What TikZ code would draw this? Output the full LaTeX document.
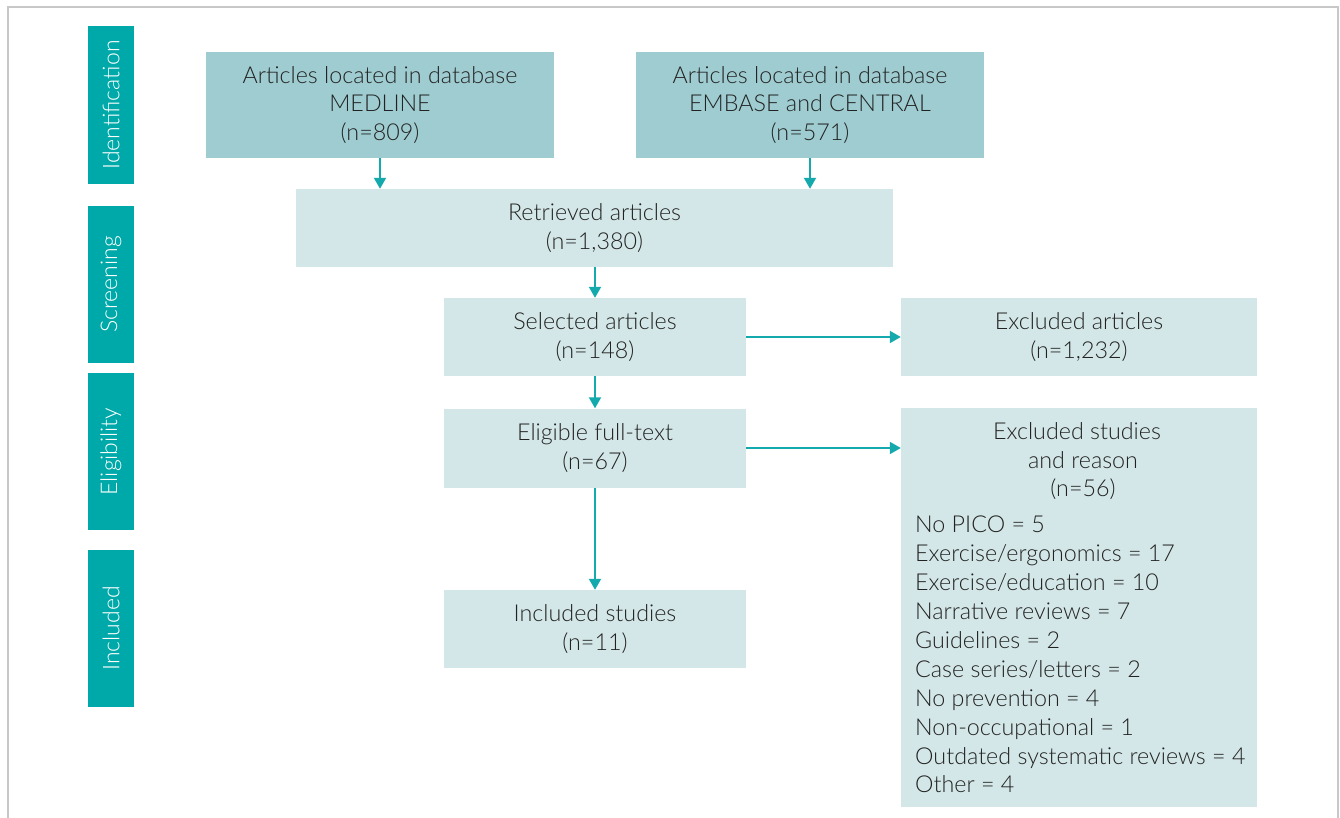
\documentclass[tikz,border=0pt]{standalone}
\usepackage{fontspec}
\setmainfont{Lato}[UprightFont=*-Light]
\usetikzlibrary{arrows.meta}
\definecolor{teal1}{HTML}{00A9A9}
\definecolor{boxdark}{HTML}{9ECCD0}
\definecolor{boxlight}{HTML}{D4E7E8}
\definecolor{arr}{HTML}{14AAAD}
\definecolor{txt}{HTML}{222222}
\definecolor{frame}{HTML}{C8C8C8}
\tikzset{
  side/.style={fill=teal1, inner sep=0pt, minimum width=46pt, minimum height=158pt},
  sidetext/.style={text=white, rotate=90, font=\fontsize{23}{24}\selectfont},
  darkbox/.style={fill=boxdark, inner sep=0pt, text=txt, align=center, font=\fontsize{23.3}{28.5}\selectfont},
  lightbox/.style={fill=boxlight, inner sep=0pt, text=txt, align=center, font=\fontsize{23.3}{28.5}\selectfont},
  flow/.style={draw=arr, line width=2pt, -{Triangle[length=11pt,width=12pt]}}
}
\begin{document}
\begin{tikzpicture}[x=1pt,y=-1pt]
\useasboundingbox (0,0) rectangle (1340,818);
\fill[white] (0,0) rectangle (1340,818);
\draw[frame, line width=1.6pt] (8,818) -- (8,7) -- (1338,7) -- (1338,818);

% side bars
\node[side] (s1) at (111,105) {};
\node[sidetext] (s1t) at (s1.center) {Identification};
\node[side, minimum height=157pt] (s2) at (111,284.5) {};
\node[sidetext] (s2t) at (s2.center) {Screening};
\node[side, minimum height=157pt] (s3) at (111,451.5) {};
\node[sidetext] (s3t) at (s3.center) {Eligibility};
\node[side, minimum height=157pt] (s4) at (111,628.5) {};
\node[sidetext] (s4t) at (s4.center) {Included};

% boxes
\node[darkbox, minimum width=348pt, minimum height=106pt] (med) at (380,105) {Articles located in database\\MEDLINE\\(n=809)};
\node[darkbox, minimum width=348pt, minimum height=106pt] (emb) at (810,105) {Articles located in database\\EMBASE and CENTRAL\\(n=571)};
\node[lightbox, minimum width=597pt, minimum height=78pt] (ret) at (594.5,228) {Retrieved articles\\(n=1,380)};
\node[lightbox, minimum width=302pt, minimum height=78pt] (sel) at (595,337) {Selected articles\\(n=148)};
\node[lightbox, minimum width=356pt, minimum height=78pt] (exa) at (1079,337) {Excluded articles\\(n=1,232)};
\node[lightbox, minimum width=302pt, minimum height=79pt] (eli) at (595,448) {Eligible full-text\\(n=67)};
\node[lightbox, minimum width=356pt, minimum height=399pt] (exs) at (1079,607.5) {};
\node[lightbox, minimum width=302pt, minimum height=78pt] (inc) at (595,629) {Included studies\\(n=11)};

\node[text=txt, align=center, anchor=north, inner sep=0pt, font=\fontsize{23.3}{28.9}\selectfont] (exsh) at (1077,422) {Excluded studies\\\hspace*{12pt}and reason\\\hspace*{12pt}(n=56)};
\node[text=txt, align=left, anchor=north west, inner sep=0pt, font=\fontsize{23.3}{28.9}\selectfont] (exsl) at (915,516) {No PICO = 5\\Exercise/ergonomics = 17\\Exercise/education = 10\\Narrative reviews = 7\\Guidelines = 2\\Case series/letters = 2\\No prevention = 4\\Non-occupational = 1\\Outdated systematic reviews = 4\\Other = 4};

% connectors
\draw[flow] (med.south) -- (med.south |- ret.north);
\draw[flow] (emb.south) -- (emb.south |- ret.north);
\draw[flow] (sel.north |- ret.south) -- (sel.north);
\draw[flow] (sel.east) -- (exa.west);
\draw[flow] (sel.south) -- (eli.north);
\draw[flow] (eli.east) -- (eli.east -| exs.west);
\draw[flow] (eli.south) -- (inc.north);
\end{tikzpicture}
\end{document}
